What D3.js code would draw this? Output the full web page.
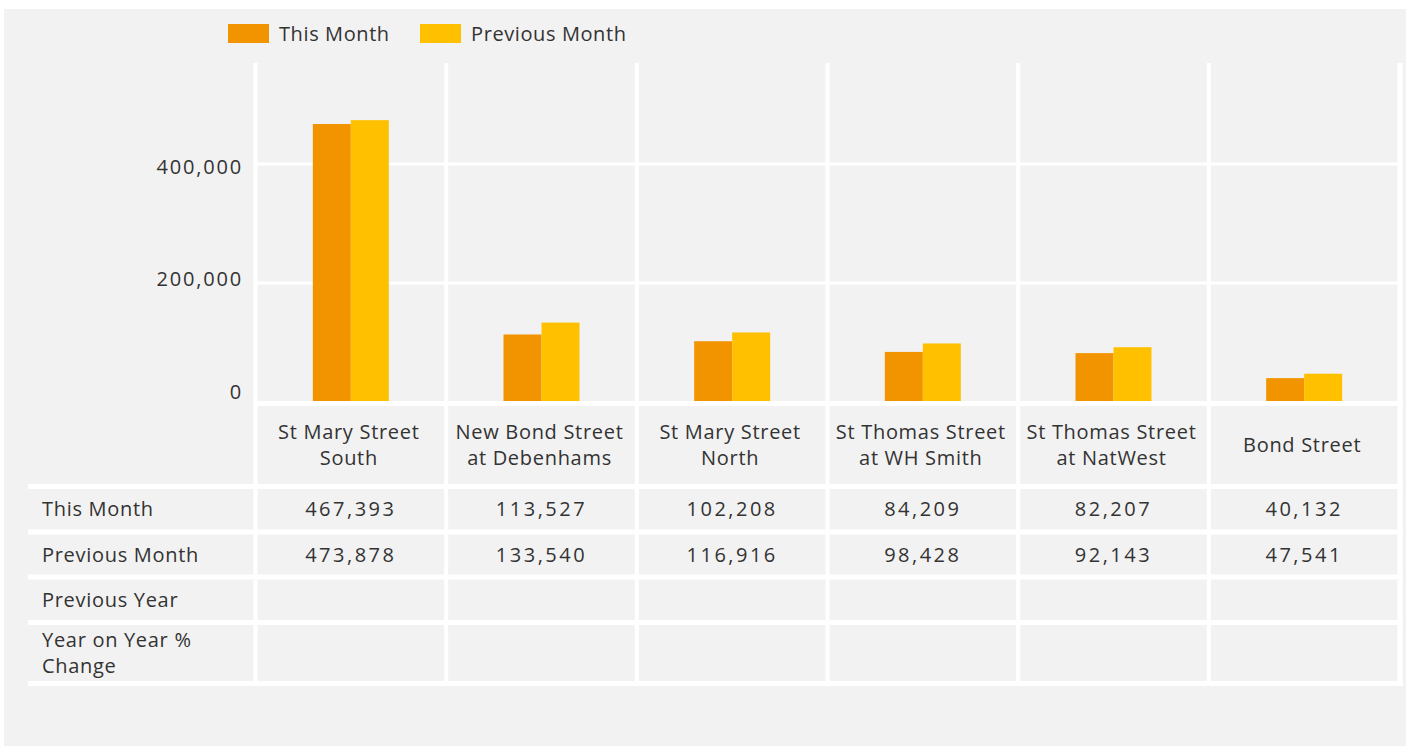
<!DOCTYPE html>
<html>
<head>
<meta charset="utf-8">
<script src="https://cdn.jsdelivr.net/npm/d3@7"></script>
<style>
  body { margin: 0; background: #fff; }
  text { font-family: "Open Sans", sans-serif; fill: #333; }
</style>
</head>
<body>
<div id="chart"></div>
<script>
// data
const categories = ["St Mary Street South", "New Bond Street at Debenhams", "St Mary Street North",
                    "St Thomas Street at WH Smith", "St Thomas Street at NatWest", "Bond Street"];
const categoryLines = [["St Mary Street", "South"], ["New Bond Street", "at Debenhams"], ["St Mary Street", "North"],
                       ["St Thomas Street", "at WH Smith"], ["St Thomas Street", "at NatWest"], ["Bond Street"]];
const series = ["This Month", "Previous Month"];
const thisMonth = [467393, 113527, 102208, 84209, 82207, 40132];
const previousMonth = [473878, 133540, 116916, 98428, 92143, 47541];
const previousYear = [null, null, null, null, null, null];
const yearOnYear = [null, null, null, null, null, null];
const yTicks = [0, 200000, 400000];
const colors = ["#F29400", "#FFC000"];

const W = 1409, H = 746;

let svg = d3.select("#chart").append("svg")
    .attr("width", W)
    .attr("height", H);

// grey panel
svg.append("rect").attr("x", 4).attr("y", 9).attr("width", 1402).attr("height", 737).attr("fill", "#f2f2f2");

// scales
let x = d3.scaleBand().domain(categories).range([255.5, 1399.5]).padding(0);
let y = d3.scaleLinear().domain([0, 570000]).range([402, 63]);
let xs = d3.scaleBand().domain(series).range([-38, 38]);

// horizontal gridlines
svg.append("g").selectAll("line")
    .data(yTicks.filter(d => d > 0))
    .join("line")
    .attr("x1", 256).attr("x2", 1400)
    .attr("y1", d => y(d)).attr("y2", d => y(d))
    .attr("stroke", "#fff").attr("stroke-width", 3);

// y labels
svg.append("g").selectAll("text")
    .data(yTicks)
    .join("text")
    .attr("x", 243)
    .attr("y", d => y(d) + (d === 0 ? -10 : d === 200000 ? -4 : 3))
    .attr("dy", "0.35em")
    .attr("text-anchor", "end")
    .style("font-size", "20px")
    .style("letter-spacing", "1.8px")
    .text(d => d3.format(",")(d));

// bars
const seriesData = [thisMonth, previousMonth];
series.forEach((s, si) => {
    svg.append("g").selectAll("rect")
        .data(categories)
        .join("rect")
        .attr("x", (c) => x(c) + x.bandwidth() / 2 + xs(s))
        .attr("width", xs.bandwidth())
        .attr("y", (c, i) => y(seriesData[si][i]))
        .attr("height", (c, i) => y(0) - y(seriesData[si][i]))
        .attr("fill", colors[si]);
});

// table
const rowLabels = [["This Month"], ["Previous Month"], ["Previous Year"], ["Year on Year %", "Change"]];
const rowValues = [thisMonth, previousMonth, previousYear, yearOnYear];
const rowTop = [489, 534, 579, 625];
const rowBottom = [529, 575, 620, 681];

// baseline + row separators
svg.append("rect").attr("x", 256).attr("y", 401).attr("width", 1147).attr("height", 5).attr("fill", "#fff");
[484, 529.5, 574.5, 620, 681].forEach(yy => {
    svg.append("rect").attr("x", 28).attr("y", yy).attr("width", 1375).attr("height", 5).attr("fill", "#fff");
});

// vertical separators
let seps = categories.map(c => x(c)).concat([x.range()[1]]);
svg.append("g").selectAll("rect")
    .data(seps)
    .join("rect")
    .attr("x", d => d - 2)
    .attr("y", 63)
    .attr("width", (d, i) => i === seps.length - 1 ? 5 : 4)
    .attr("height", 686 - 63)
    .attr("fill", "#fff");

// category labels
categories.forEach((c, i) => {
    let lines = categoryLines[i];
    let cy = 445 - (lines.length - 1) * 13;
    let t = svg.append("text")
        .attr("text-anchor", "middle")
        .style("font-size", "20px")
        .style("letter-spacing", "0.7px");
    lines.forEach((l, li) => {
        t.append("tspan")
            .attr("x", x(c) + x.bandwidth() / 2 - 2)
            .attr("y", cy + li * 26)
            .attr("dy", "0.35em")
            .text(l);
    });
});

// row labels and values
rowLabels.forEach((lines, r) => {
    let mid = (rowTop[r] + rowBottom[r]) / 2;
    let cy = mid - (lines.length - 1) * 13;
    let t = svg.append("text")
        .style("font-size", "20px")
        .style("letter-spacing", "0.7px");
    lines.forEach((l, li) => {
        t.append("tspan").attr("x", 42).attr("y", cy + li * 26).attr("dy", "0.35em").text(l);
    });
    svg.append("g").selectAll("text")
        .data(categories)
        .join("text")
        .attr("x", c => x(c) + x.bandwidth() / 2)
        .attr("y", mid)
        .attr("dy", "0.35em")
        .attr("text-anchor", "middle")
        .style("font-size", "20px")
        .style("letter-spacing", "2.5px")
        .text((c, i) => rowValues[r][i] == null ? "" : d3.format(",")(rowValues[r][i]));
});

// legend
let legend = svg.append("g");
const legendX = [228, 420];
series.forEach((s, i) => {
    legend.append("rect").attr("x", legendX[i]).attr("y", 24).attr("width", 41).attr("height", 19).attr("fill", colors[i]);
    legend.append("text").attr("x", legendX[i] + 51).attr("y", 33.5).attr("dy", "0.35em")
        .style("font-size", "20px").style("letter-spacing", "0.6px").text(s);
});
</script>
</body>
</html>
